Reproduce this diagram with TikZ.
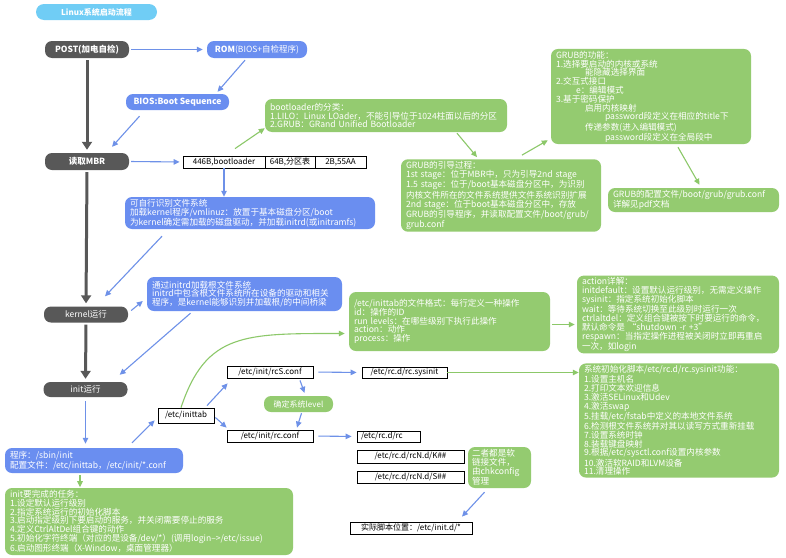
\documentclass[tikz,border=0pt]{standalone}
\usepackage{fontspec}
\setmainfont{Noto Sans CJK SC}
\usetikzlibrary{arrows.meta,calc}

\definecolor{pillgray}{RGB}{88,88,88}
\definecolor{boxblue}{RGB}{106,142,240}
\definecolor{boxgreen}{RGB}{148,203,112}
\definecolor{titleblue}{RGB}{112,205,245}
\definecolor{lineblue}{RGB}{110,145,232}
\definecolor{linegreen}{RGB}{140,200,105}

\tikzset{
  stage/.style={fill=pillgray, text=white, rounded corners=7pt, minimum height=17pt,
    minimum width=84pt, inner sep=0pt, font=\fontsize{8.5}{9}\selectfont\bfseries},
  bluebox/.style={fill=boxblue, text=white, rounded corners=7pt, align=left,
    inner xsep=5pt, inner ysep=2pt, font=\fontsize{8.6}{8.8}\selectfont},
  greenbox/.style={bluebox, fill=boxgreen},
  filebox/.style={draw=black, line width=0.8pt, fill=white, inner sep=0pt,
    font=\fontsize{8}{9}\selectfont},
  bluearrow/.style={draw=lineblue, line width=1.1pt, -{Triangle[length=6pt,width=5.5pt]}},
  greenarrow/.style={bluearrow, draw=linegreen},
  bigarrow/.style={draw=pillgray, line width=3pt, -{Triangle[length=8pt,width=10pt]},
    shorten <=2pt, shorten >=3pt},
}

\begin{document}
\begin{tikzpicture}[x=1pt, y=-1pt]
    % Page frame
    \fill[white] (0,0) rectangle (786,557);
    \useasboundingbox (0,0) rectangle (786,557);

    % Title
    \node[fill=titleblue, text=white, rounded corners=8pt, minimum width=121pt, minimum height=16pt,
      inner sep=0pt, font=\fontsize{8}{9}\selectfont\bfseries] (title) at (96.5,12) {Linux系统启动流程};

    % Main stages on the left
    \node[stage] (post) at (87,49.5) {POST(加电自检)};
    \node[stage] (mbr) at (87,161.5) {读取MBR};
    \node[stage, minimum height=16pt, font=\fontsize{8.5}{9}\selectfont] (kernel) at (86,314.5) {kernel运行};
    \node[stage, minimum height=15pt, font=\fontsize{8.5}{9}\selectfont] (init) at (85.5,389.5) {init运行};

    % BIOS part
    \node[stage, fill=boxblue, minimum width=100pt] (rom) at (257,49.5) {ROM\mdseries(BIOS+自检程序)};
    \node[stage, fill=boxblue, minimum width=103pt, minimum height=16pt] (bios) at (177.5,102) {BIOS:Boot Sequence};

    % MBR layout
    \node[filebox, minimum width=82pt, minimum height=12pt] (cell1) at (224,162) {446B,bootloader};
    \node[filebox, minimum width=50pt, minimum height=12pt] (cell2) at (290,162) {64B,分区表};
    \node[filebox, minimum width=51pt, minimum height=12pt] (cell3) at (340.5,162) {2B,55AA};

    \node[bluebox, text width=240pt, minimum height=32pt] (loadbox) at (250,213)
      {可自行识别文件系统\\加载kernel程序/vmlinuz：放置于基本磁盘分区/boot\\为kernel确定需加载的磁盘驱动，并加载initrd(或initramfs)};

    % GRUB notes
    \node[greenbox, text width=232pt, minimum height=33pt] (bootloader) at (386,115.5)
      {bootloader的分类：\\1.LILO：Linux LOader，不能引导位于1024柱面以后的分区\\2.GRUB：GRand Unified Bootloader};
    \node[greenbox, text width=190pt, minimum height=67pt] (grubproc) at (501,195.5)
      {GRUB的引导过程：\\1st stage：位于MBR中，只为引导2nd stage\\1.5 stage：位于/boot基本磁盘分区中，为识别\\内核文件所在的文件系统提供文件系统识别扩展\\2nd stage：位于boot基本磁盘分区中，存放\\GRUB的引导程序，并读取配置文件/boot/grub/\\grub.conf};
    \node[greenbox, text width=190pt, minimum height=95pt] (grubfunc) at (651,96.5)
      {GRUB的功能：\\1.选择要启动的内核或系统\\\hspace*{29pt}能隐藏选择界面\\2.交互式接口\\\hspace*{20pt}e：编辑模式\\3.基于密码保护\\\hspace*{29pt}启用内核映射\\\hspace*{49pt}password段定义在相应的title下\\\hspace*{29pt}传递参数(进入编辑模式)\\\hspace*{49pt}password段定义在全局段中};
    \node[greenbox, text width=161pt, minimum height=24pt] (grubconf) at (693.5,200)
      {GRUB的配置文件/boot/grub/grub.conf\\详解见pdf文档};

    % Kernel and initrd
    \node[bluebox, text width=185pt, minimum height=34pt] (initrd) at (244.5,294)
      {通过initrd加载根文件系统\\initrd中包含根文件系统所在设备的驱动和相关\\程序，是kernel能够识别并加载根/的中间桥梁};

    % init part
    \node[bluebox, text width=168pt, minimum height=25pt] (prog) at (94,460.5)
      {程序：/sbin/init\\配置文件：/etc/inittab，/etc/init/*.conf};
    \node[greenbox, text width=278pt, minimum height=67pt] (tasks) at (149,521.5)
      {init要完成的任务：\\1.设定默认运行级别\\2.指定系统运行的初始化脚本\\3.启动指定级别下要启动的服务，并关闭需要停止的服务\\4.定义CtrlAltDel组合键的动作\\5.初始化字符终端（对应的是设备/dev/*）(调用login-->/etc/issue)\\6.启动图形终端（X-Window，桌面管理器）};

    \node[filebox, minimum width=56pt, minimum height=15pt] (inittab) at (186,415.5) {/etc/inittab};
    \node[filebox, minimum width=86pt, minimum height=12pt] (rcs) at (270,372) {/etc/init/rcS.conf};
    \node[filebox, minimum width=86pt, minimum height=12pt] (rcconf) at (270,436) {/etc/init/rc.conf};
    \node[fill=boxgreen, text=white, rounded corners=7pt, minimum width=69pt, minimum height=16pt,
      inner sep=0pt, font=\fontsize{8}{9}\selectfont] (level) at (298.5,404) {确定系统level};

    \node[filebox, minimum width=85pt, minimum height=11pt] (sysinit) at (404.5,372.5) {/etc/rc.d/rc.sysinit};
    \node[filebox, inner xsep=4pt, text width=55pt, align=left, minimum height=11pt] (rcrc) at (388.5,436.5) {/etc/rc.d/rc};
    \node[filebox, minimum width=107pt, minimum height=13pt] (rck) at (410.5,456.5) {/etc/rc.d/rcN.d/K\#\#};
    \node[filebox, minimum width=107pt, minimum height=12pt] (rcss) at (410.5,477) {/etc/rc.d/rcN.d/S\#\#};
    \node[greenbox, inner xsep=4pt, text width=55pt, minimum height=41pt] (both) at (499.5,467.5)
      {二者都是软\\链接文件，\\由chkconfig\\管理};
    \node[filebox, minimum width=122pt, minimum height=12pt] (actual) at (411,528) {实际脚本位置：/etc/init.d/*};

    \node[greenbox, text width=191pt, minimum height=59pt] (tabfmt) at (449.5,321.5)
      {/etc/inittab的文件格式：每行定义一种操作\\id：操作的ID\\run levels：在哪些级别下执行此操作\\action：动作\\process：操作};
    \node[greenbox, text width=192pt, minimum height=77pt] (action) at (678,314.5)
      {action详解：\\initdefault：设置默认运行级别，无需定义操作\\sysinit：指定系统初始化脚本\\wait：等待系统切换至此级别时运行一次\\ctrlaltdel：定义组合键被按下时要运行的命令，\\默认命令是 “shutdown -r +3”\\respawn：当指定操作进程被关闭时立即再重启\\一次，如login};
    \node[greenbox, text width=190pt, minimum height=111pt] (sysbox) at (679,420.5)
      {系统初始化脚本/etc/rc.d/rc.sysinit功能：\\1.设置主机名\\2.打印文本欢迎信息\\3.激活SELinux和Udev\\4.激活swap\\5.挂载/etc/fstab中定义的本地文件系统\\6.检测根文件系统并对其以读写方式重新挂载\\7.设置系统时钟\\8.装载键盘映射\\9.根据/etc/sysctl.conf设置内核参数\\10.激活软RAID和LVM设备\\11.清理操作};

    % Thick arrows down the main line
    \draw[bigarrow] (post.south) -- (mbr.north);
    \draw[bigarrow] (mbr.south) -- (kernel.north);
    \draw[bigarrow] (kernel.south) -- (init.north);

    % Blue arrows
    \draw[bluearrow, shorten <=2pt, shorten >=4pt] (post.east) -- (rom.west);
    \draw[bluearrow] ($(rom.south)+(-12,2)$) -- ($(bios.north)+(40,-2)$);
    \draw[bluearrow] ($(bios.south)+(-38,6)$) -- ($(mbr.north)+(25,-6)$);
    \draw[bluearrow, shorten <=2pt, shorten >=3pt] (mbr.east) -- (cell1.west);
    \draw[bluearrow] (cell1.south) -- (cell1.south |- loadbox.north);
    \draw[bluearrow] ($(loadbox.south)+(-88,7)$) -- ($(kernel.north)+(19,-10)$);
    \draw[bluearrow] ($(kernel.east)+(3,-4)$) -- ($(initrd.west)+(-4,7)$);
    \draw[bluearrow] ($(initrd.south)+(-54,2)$) -- ($(init.north east)+(-8,-7)$);
    \draw[bluearrow, shorten <=4pt, shorten >=4pt] (init.south) -- (init.south |- prog.north);
    \draw[bluearrow] ($(prog.north)+(38,-5)$) -- ($(inittab.south west)+(-3,-3)$);
    \draw[bluearrow] ($(inittab.north)+(21,-2)$) -- ($(rcs.south west)+(1,5)$);
    \draw[bluearrow] ($(inittab.east)+(1,2)$) -- ($(rcconf.north west)+(0,-2)$);
    \draw[bluearrow] ($(rcs.south)+(30,2)$) -- ($(level.north)+(6,-3)$);
    \draw[bluearrow] ($(level.south)+(3,1)$) -- ($(rcconf.north)+(27,-2)$);
    \draw[bluearrow, shorten <=5pt, shorten >=5pt] (rcs.east) -- (sysinit.west);
    \draw[bluearrow, shorten <=5pt, shorten >=5pt] (rcconf.east) -- (rcrc.west);
    \draw[bluearrow] ($(both.south)+(-15,4)$) -- ($(actual.north)+(51,-5)$);

    % Green arrows
    \draw[greenarrow] ($(cell1.north)+(11,-7)$) -- ($(bootloader.south west)+(0,-4)$);
    \draw[greenarrow] ($(bootloader.south)+(71,1)$) -- ($(grubproc.north)+(-24,-2)$);
    \draw[greenarrow] ($(grubproc.north)+(21,-4)$) -- ($(grubfunc.south west)+(-3,-4)$);
    \draw[greenarrow] ($(grubfunc.south)+(27,3)$) -- ($(grubconf.north)+(6,-3)$);
    \draw[greenarrow, shorten <=2pt, shorten >=1pt] ($(prog.south)+(-14,0)$) -- ($(prog.south)+(-14,15)$);
    \draw[greenarrow] ($(inittab.north)+(-5,0)$) .. controls +(25,-75) and +(-100,0) .. ($(tabfmt.west)+(-4,12)$);
    \draw[greenarrow] ($(tabfmt.east)+(2,3)$) -- ($(action.west)+(-2,10)$);
    \draw[greenarrow] (sysinit.east) -- (sysinit.east -| sysbox.west);
\end{tikzpicture}
\end{document}
